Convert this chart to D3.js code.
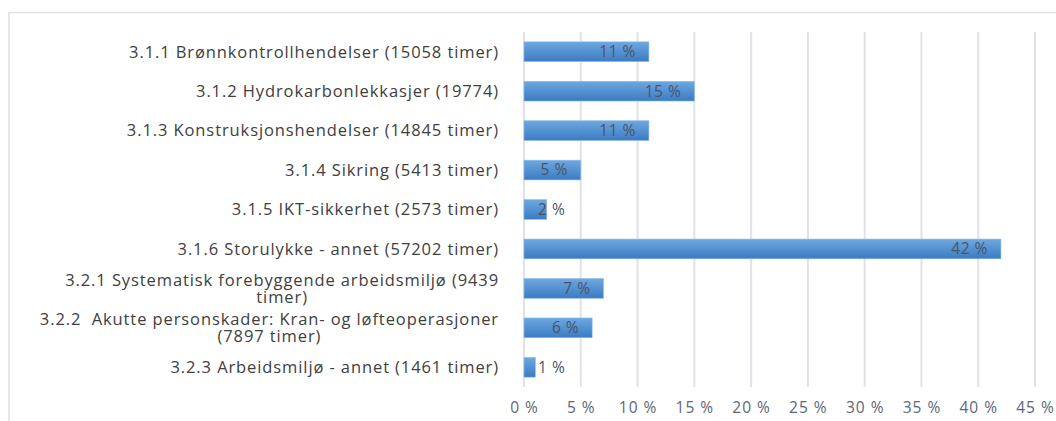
<!DOCTYPE html>
<html>
<head>
<meta charset="utf-8">
<script src="https://cdn.jsdelivr.net/npm/d3@7"></script>
<style>
  body { margin: 0; background: #fff; }
  svg { display: block; font-family: "Open Sans", sans-serif; }
</style>
</head>
<body>
<div id="chart"></div>
<script>
// categories, wrapped the way the original chart wraps them
let categories = [
  ['3.1.1 Brønnkontrollhendelser (15058 timer)'],
  ['3.1.2 Hydrokarbonlekkasjer (19774)'],
  ['3.1.3 Konstruksjonshendelser (14845 timer)'],
  ['3.1.4 Sikring (5413 timer)'],
  ['3.1.5 IKT-sikkerhet (2573 timer)'],
  ['3.1.6 Storulykke - annet (57202 timer)'],
  ['3.2.1 Systematisk forebyggende arbeidsmiljø (9439', 'timer)'],
  ['3.2.2  Akutte personskader: Kran- og løfteoperasjoner', '(7897 timer)'],
  ['3.2.3 Arbeidsmiljø - annet (1461 timer)']
];

// share of hours, in percent
let shares = [11, 15, 11, 5, 2, 42, 7, 6, 1];

// x axis ticks
let ticks = [0, 5, 10, 15, 20, 25, 30, 35, 40, 45];

let width = 1056;
let height = 421;

// plot area
let plotLeft = 524;
let plotRight = 1035;
let plotTop = 32;
let plotBottom = 387;

let svg = d3.select('#chart')
  .append('svg')
  .attr('width', width)
  .attr('height', height);

// bar gradient, lighter on top like the office style
let grad = svg.append('defs')
  .append('linearGradient')
  .attr('id', 'barFill')
  .attr('x1', 0).attr('y1', 0)
  .attr('x2', 0).attr('y2', 1);
grad.append('stop').attr('offset', '0%').attr('stop-color', '#6ea8e0');
grad.append('stop').attr('offset', '100%').attr('stop-color', '#3b7bc2');

// chart frame, runs off the right and bottom edge
svg.append('rect')
  .attr('x', 9)
  .attr('y', 12.5)
  .attr('width', 1100)
  .attr('height', 500)
  .attr('fill', 'none')
  .attr('stroke', '#dde1e6')
  .attr('stroke-width', 1.5);

let x = d3.scaleLinear()
  .domain([0, 45])
  .range([plotLeft, plotRight]);

let y = d3.scaleBand()
  .domain(d3.range(categories.length))
  .range([plotTop, plotBottom])
  .paddingInner(0.5)
  .paddingOuter(0.25);

// gridlines
svg.append('g')
  .selectAll('line')
  .data(ticks)
  .enter()
  .append('line')
  .attr('x1', function(d) { return x(d); })
  .attr('x2', function(d) { return x(d); })
  .attr('y1', plotTop)
  .attr('y2', plotBottom)
  .attr('stroke', '#dfe3e9')
  .attr('stroke-width', 2);

// x axis labels
let xAxis = svg.append('g')
  .attr('transform', 'translate(0,' + (plotBottom + 15) + ')')
  .call(d3.axisBottom(x).tickValues(ticks).tickSize(0).tickPadding(0)
    .tickFormat(function(d) { return d + ' %'; }));
xAxis.select('.domain').remove();
xAxis.selectAll('text')
  .attr('font-family', '"Open Sans", sans-serif')
  .attr('font-size', 15.5)
  .attr('letter-spacing', 1)
  .attr('fill', '#5d6777');

// bars
svg.append('g')
  .selectAll('rect')
  .data(shares)
  .enter()
  .append('rect')
  .attr('x', x(0))
  .attr('y', function(d, i) { return y(i); })
  .attr('width', function(d) { return x(d) - x(0); })
  .attr('height', y.bandwidth())
  .attr('fill', 'url(#barFill)')
  .attr('stroke', '#8cbbe8')
  .attr('stroke-width', 0.6);

// value labels, inside the end, pushed out when the bar is too short
let labels = svg.append('g')
  .selectAll('text')
  .data(shares)
  .enter()
  .append('text')
  .attr('y', function(d, i) { return y(i) + y.bandwidth() / 2; })
  .attr('dy', '0.35em')
  .attr('text-anchor', 'end')
  .attr('font-size', 15.5)
  .attr('letter-spacing', 0.5)
  .attr('fill', '#4a5466')
  .text(function(d) { return d + ' %'; });
labels.attr('x', function(d) {
  let w = this.getComputedTextLength();
  return Math.max(x(d) - 13, x(0) + 14 + w);
});

// category labels
let catG = svg.append('g')
  .selectAll('g')
  .data(categories)
  .enter()
  .append('g')
  .attr('transform', function(d, i) {
    return 'translate(0,' + (y(i) + y.bandwidth() / 2) + ')';
  });

catG.each(function(lines) {
  let g = d3.select(this);
  let lineH = 17;
  let offset = -(lines.length - 1) * lineH / 2;
  let first = g.append('text')
    .attr('x', 499)
    .attr('y', offset)
    .attr('dy', '0.35em')
    .attr('text-anchor', 'end')
    .attr('font-size', 16.5)
    .attr('letter-spacing', 0.9)
    .attr('fill', '#404040')
    .style('white-space', 'pre')
    .text(lines[0]);
  if (lines.length > 1) {
    let w = first.node().getComputedTextLength();
    g.append('text')
      .attr('x', 499 - w / 2)
      .attr('y', offset + lineH)
      .attr('dy', '0.35em')
      .attr('text-anchor', 'middle')
      .attr('font-size', 16.5)
      .attr('letter-spacing', 0.9)
      .attr('fill', '#404040')
      .text(lines[1]);
  }
});
</script>
</body>
</html>
